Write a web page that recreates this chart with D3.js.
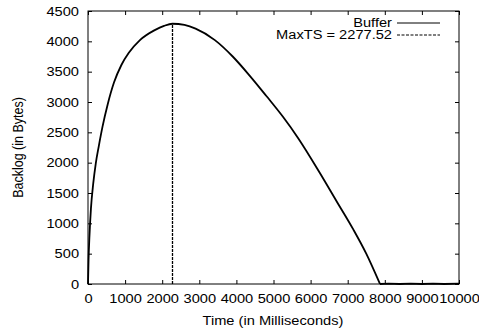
<!DOCTYPE html>
<html>
<head>
<meta charset="utf-8">
<script src="https://cdn.jsdelivr.net/npm/d3@7"></script>
<style>
    html, body { margin: 0; padding: 0; background: #fff; }
    svg text { font-family: "Liberation Sans", Arial, Helvetica, sans-serif; font-size: 12.5px; fill: #000; }
</style>
</head>
<body>
<svg id="chart" width="479" height="335"></svg>
<script>
// время (мс) и размер буфера (байты)
const timeMs = [0, 15, 40, 80, 140, 210, 290, 390, 530, 700, 900, 1100, 1400, 1800, 2050, 2277,
    2600, 2900, 3420, 3900, 4350, 4820, 5250, 5670, 6250, 6700, 7150, 7500, 7870,
    8100, 8400, 8700, 9000, 9300, 9600, 10000];
const backlog = [0, 400, 800, 1250, 1650, 1990, 2270, 2590, 2960, 3320, 3610, 3810, 4020, 4185, 4255, 4290,
    4270, 4210, 4020, 3750, 3440, 3090, 2760, 2400, 1830, 1365, 900, 500, 0,
    6, 0, 6, 0, 6, 0, 6];
const maxTS = 2277.52;
const maxTSTop = 4290;

const xTicks = [0, 1000, 2000, 3000, 4000, 5000, 6000, 7000, 8000, 9000, 10000];
const yTicks = [0, 500, 1000, 1500, 2000, 2500, 3000, 3500, 4000, 4500];
const legendLabels = ["Buffer", "MaxTS = " + maxTS];

const svg = d3.select("svg#chart");
const plotLeft = 88, plotRight = 459, plotTop = 11, plotBottom = 284;
const STRETCH = 1.17; // шрифт в оригинале растянут по горизонтали

const x = d3.scaleLinear().domain([0, 10000]).range([plotLeft, plotRight]);
const y = d3.scaleLinear().domain([0, 4500]).range([plotBottom, plotTop]);

// оси, засечки внутрь
svg.append("g")
    .attr("transform", `translate(${plotLeft},0)`)
    .call(d3.axisLeft(y).tickValues(yTicks).tickSize(-4).tickPadding(9).tickFormat(d3.format("d")));
svg.append("g")
    .attr("transform", `translate(${plotRight},0)`)
    .call(d3.axisRight(y).tickValues(yTicks).tickSize(-4).tickFormat(""));
svg.append("g")
    .attr("transform", `translate(0,${plotBottom})`)
    .call(d3.axisBottom(x).tickValues(xTicks).tickSize(-4).tickPadding(10).tickFormat(d3.format("d")));
svg.append("g")
    .attr("transform", `translate(0,${plotTop})`)
    .call(d3.axisTop(x).tickValues(xTicks).tickSize(-4).tickFormat(""));

svg.selectAll(".domain").remove();
svg.selectAll(".tick line").attr("stroke", "#000").attr("stroke-width", 1);
svg.selectAll("g").attr("font-family", null).attr("font-size", null);

svg.append("rect")
    .attr("x", plotLeft).attr("y", plotTop)
    .attr("width", plotRight - plotLeft).attr("height", plotBottom - plotTop)
    .attr("fill", "none").attr("stroke", "#000").attr("stroke-width", 1);

// кривая буфера: гладкая часть до опустошения и почти нулевой хвост
const data = timeMs.map((t, i) => ({t: t, v: backlog[i]}));
const emptyIdx = backlog.indexOf(0, 1);

function drawLine(points, curve) {
    let lineF = d3.line()
        .x(d => x(d.t))
        .y(d => y(d.v))
        .curve(curve);
    svg.append("path")
        .datum(points)
        .attr("d", lineF)
        .attr("fill", "none")
        .attr("stroke", "#000")
        .attr("stroke-width", 1.8)
        .attr("stroke-linejoin", "round");
}
drawLine(data.slice(0, emptyIdx + 1), d3.curveMonotoneX);
drawLine(data.slice(emptyIdx), d3.curveLinear);

// вертикальная линия MaxTS
svg.append("line")
    .attr("x1", x(maxTS)).attr("x2", x(maxTS))
    .attr("y1", y(0)).attr("y2", y(maxTSTop))
    .attr("stroke", "#000")
    .attr("stroke-width", 1.3)
    .attr("stroke-dasharray", "3,1");

// легенда
const legend = svg.append("g");
legendLabels.forEach((label, i) => {
    const ly = 23 + i * 12;
    legend.append("text")
        .attr("x", 392).attr("y", ly + 4)
        .attr("text-anchor", "end")
        .text(label);
    legend.append("line")
        .attr("x1", 397).attr("x2", 440)
        .attr("y1", ly).attr("y2", ly)
        .attr("stroke", "#000")
        .attr("stroke-width", 1)
        .attr("stroke-dasharray", i === 0 ? null : "3,1.5");
});

// подписи осей
svg.append("text")
    .attr("x", 273).attr("y", 325)
    .attr("text-anchor", "middle")
    .text("Time (in Milliseconds)");

svg.append("text")
    .attr("class", "ylabel")
    .attr("transform", `translate(23,${(plotTop + plotBottom) / 2}) rotate(-90) scale(1,${STRETCH})`)
    .attr("text-anchor", "middle")
    .text("Backlog (in Bytes)");

// растягиваем горизонтальный текст как в оригинале
svg.selectAll("text").filter(function () { return !this.classList.contains("ylabel"); })
    .each(function () {
        const len = this.getComputedTextLength();
        d3.select(this)
            .attr("textLength", len * STRETCH)
            .attr("lengthAdjust", "spacingAndGlyphs");
    });
</script>
</body>
</html>
